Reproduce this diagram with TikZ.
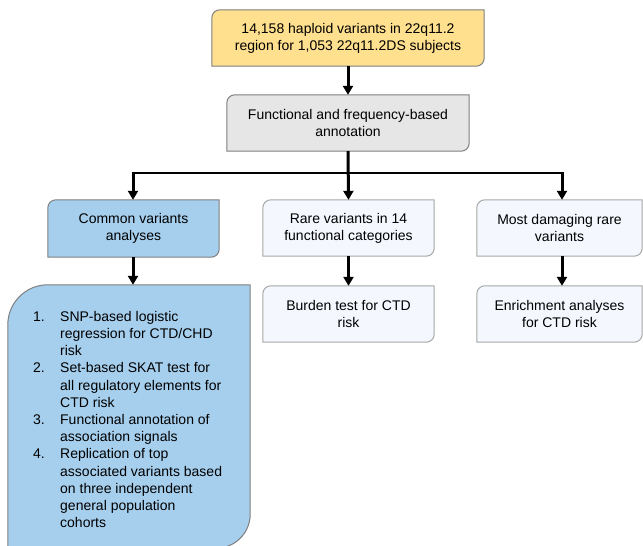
\documentclass[tikz,border=0pt]{standalone}
\usepackage{fontspec}
\setmainfont{Liberation Sans}
\usetikzlibrary{arrows.meta}
\definecolor{boxyellow}{HTML}{FFE08F}
\definecolor{boxgray}{HTML}{E6E6E6}
\definecolor{boxblue}{HTML}{A6CFEE}
\definecolor{boxlight}{HTML}{F4F8FE}
\definecolor{edgedark}{HTML}{7F7F7F}
\definecolor{edgelight}{HTML}{A6A6A6}
% diagonal-rounded shape around a node: #1 node, #2 style, #3 top-left radius, #4 bottom-right radius
\newcommand\diagshape[4]{%
  \path[#2] ([yshift=-#3]#1.north west) arc[start angle=180,end angle=90,radius=#3]
    -- (#1.north east) -- ([yshift=#4]#1.south east)
    arc[start angle=0,end angle=-90,radius=#4] -- (#1.south west) -- cycle;}
\begin{document}
\begin{tikzpicture}[x=1pt,y=1pt,
  txt/.style={inner sep=0pt, align=center, font=\fontsize{14}{17}\selectfont, text=black},
  dark/.style={draw=edgedark, line width=1pt},
  light/.style={draw=edgelight, line width=1pt},
  arr/.style={line width=3pt, -{Triangle[width=10pt,length=9pt]}},
  hline/.style={line width=1.8pt}]
\useasboundingbox (0,0) rectangle (643,-546);
\clip (0,0) rectangle (643,-546);
% nodes (invisible frames, shapes drawn below)
\node[txt, minimum width=272pt, minimum height=56pt] (top) at (348,-38) {};
\node[txt, minimum width=242pt, minimum height=56pt] (ann) at (348,-123) {};
\node[txt, minimum width=171pt, minimum height=57pt] (common) at (133.5,-228.5) {};
\node[txt, minimum width=171pt, minimum height=56pt] (rare) at (348.5,-228) {};
\node[txt, minimum width=165pt, minimum height=56pt] (damag) at (559.5,-228) {};
\node[txt, minimum width=171pt, minimum height=56pt] (burden) at (348.5,-314) {};
\node[txt, minimum width=165pt, minimum height=56pt] (enrich) at (559.5,-314) {};
\node[inner sep=0pt, minimum width=242pt, minimum height=263pt] (list) at (129,-416.5) {};
% shapes
\diagshape{top}{dark, fill=boxyellow}{8pt}{8pt}
\diagshape{ann}{dark, fill=boxgray}{8pt}{8pt}
\diagshape{common}{dark, fill=boxblue}{8pt}{8pt}
\diagshape{rare}{light, fill=boxlight}{8pt}{8pt}
\diagshape{damag}{light, fill=boxlight}{8pt}{8pt}
\diagshape{burden}{light, fill=boxlight}{8pt}{8pt}
\diagshape{enrich}{light, fill=boxlight}{8pt}{8pt}
\diagshape{list}{dark, fill=boxblue}{40pt}{34pt}
% texts on top of the fills
\node[txt] (toptxt) at (top) {14,158 haploid variants in 22q11.2\\region for 1,053 22q11.2DS subjects};
\node[txt] (anntxt) at (ann) {Functional and frequency-based\\annotation};
\node[txt] (commontxt) at (common) {Common variants\\analyses};
\node[txt] (raretxt) at (rare) {Rare variants in 14\\functional categories};
\node[txt] (damagtxt) at (damag) {Most damaging rare\\variants};
\node[txt] (burdentxt) at (burden) {Burden test for CTD\\risk};
\node[txt] (enrichtxt) at (enrich) {Enrichment analyses\\for CTD risk};
\node[inner sep=0pt, anchor=north west, align=left, font=\fontsize{14}{17.2}\selectfont] (listtxt) at (33,-311)
 {\makebox[27pt][l]{1.}SNP-based logistic\\
  \hspace*{27pt}regression for CTD/CHD\\
  \hspace*{27pt}risk\\
  \makebox[27pt][l]{2.}Set-based SKAT test for\\
  \hspace*{27pt}all regulatory elements for\\
  \hspace*{27pt}CTD risk\\
  \makebox[27pt][l]{3.}Functional annotation of\\
  \hspace*{27pt}association signals\\
  \makebox[27pt][l]{4.}Replication of top\\
  \hspace*{27pt}associated variants based\\
  \hspace*{27pt}on three independent\\
  \hspace*{27pt}general population\\
  \hspace*{27pt}cohorts};
% connectors
\coordinate (hl) at (133,-173);
\coordinate (hr) at (562,-173);
\draw[arr] (top.south) -- (ann.north);
\draw[arr] (ann.south) -- (rare.north);
\draw[hline] (hl) -- (hr);
\draw[arr] ([yshift=0.9pt]hl) -- (hl |- common.north);
\draw[arr] ([yshift=0.9pt]hr) -- (hr |- damag.north);
\draw[arr] (rare.south) -- (burden.north);
\draw[arr] (damag.south -| hr) -- (enrich.north -| hr);
\draw[arr] (common.south -| hl) -- (list.north -| hl);
\end{tikzpicture}
\end{document}
